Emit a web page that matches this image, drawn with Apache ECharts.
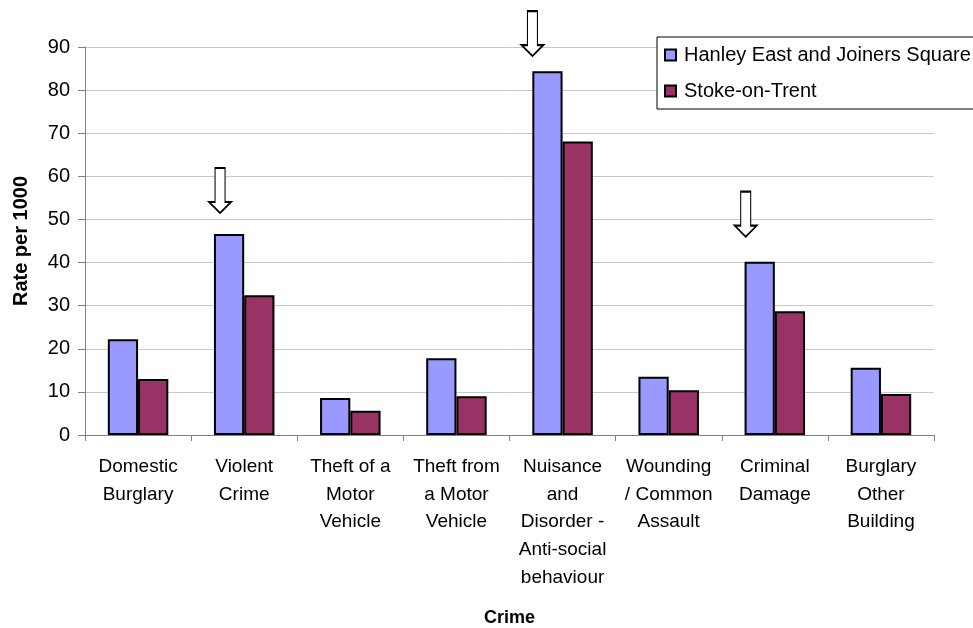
<!DOCTYPE html>
<html>
<head>
<meta charset="utf-8">
<script src="https://cdn.jsdelivr.net/npm/echarts@6/dist/echarts.min.js"></script>
<style>html,body{margin:0;padding:0;background:#fff}#c{width:973px;height:628px}</style>
</head>
<body>
<div id="c"></div>
<script>
var categories = ["Domestic\nBurglary", "Violent\nCrime", "Theft of a\nMotor\nVehicle", "Theft from\na Motor\nVehicle", "Nuisance\nand\nDisorder -\nAnti-social\nbehaviour", "Wounding\n/ Common\nAssault", "Criminal\nDamage", "Burglary\nOther\nBuilding"];
var seriesNames = ["Hanley East and Joiners Square", "Stoke-on-Trent"];
var hanley = [22.2, 46.6, 8.6, 17.8, 84.4, 13.5, 40.2, 15.6];
var stoke = [13.0, 32.4, 5.6, 9.0, 68.1, 10.4, 28.7, 9.5];
var yTicks = [0, 10, 20, 30, 40, 50, 60, 70, 80, 90];
var arrowCategoryIndex = [1, 4, 6];
var arrowTipValues = [51.5, 87.9, 46.0];

var FONT = '"Liberation Sans", Arial, sans-serif';
var arrowPath = 'path://M6,0 L16,0 L16,34 L22,34 L11,45 L0,34 L6,34 Z';
var arrowOffsets = [-9, -15, -14];

var chart = echarts.init(document.getElementById('c'), null, {renderer: 'canvas'});
var option = {
  backgroundColor: '#ffffff',
  animation: false,
  textStyle: {fontFamily: FONT, color: '#000'},
  grid: {left: 85, width: 849, top: 47, height: 388, containLabel: false, outerBoundsMode: 'none'},
  legend: {
    orient: 'vertical',
    left: 657,
    top: 37,
    padding: [8, 60, 8, 7],
    itemWidth: 11,
    itemHeight: 11,
    itemGap: 16,
    icon: 'rect',
    borderColor: '#000',
    borderWidth: 1,
    backgroundColor: '#fff',
    textStyle: {fontFamily: FONT, fontSize: 20, color: '#000', lineHeight: 20, padding: [0, 0, 0, 3]},
    data: seriesNames
  },
  xAxis: {
    type: 'category',
    data: categories,
    name: 'Crime',
    nameLocation: 'middle',
    nameGap: 174,
    nameTextStyle: {fontFamily: FONT, fontSize: 18, fontWeight: 'bold', color: '#000', verticalAlign: 'top'},
    axisLine: {lineStyle: {color: '#808080', width: 1}},
    axisTick: {show: true, alignWithLabel: false, length: 6, lineStyle: {color: '#808080'}},
    axisLabel: {fontFamily: FONT, fontSize: 19, color: '#000', lineHeight: 27.7, margin: 18, interval: 0, align: 'center'},
    splitLine: {show: false}
  },
  yAxis: {
    type: 'value',
    min: yTicks[0],
    max: yTicks[yTicks.length - 1],
    interval: 10,
    name: 'Rate per 1000',
    nameLocation: 'middle',
    nameGap: 54,
    nameTextStyle: {fontFamily: FONT, fontSize: 20, fontWeight: 'bold', color: '#000'},
    axisLine: {show: true, lineStyle: {color: '#808080', width: 1}},
    axisTick: {show: true, length: 7, lineStyle: {color: '#808080'}},
    axisLabel: {fontFamily: FONT, fontSize: 20, color: '#000', margin: 15},
    splitLine: {show: true, lineStyle: {color: '#c8c8c8', width: 1}}
  },
  series: [
    {
      name: seriesNames[0],
      type: 'bar',
      data: hanley,
      barGap: '0%',
      barCategoryGap: '43%',
      itemStyle: {color: '#9999ff', borderColor: '#000', borderWidth: 2},
      markPoint: {
        symbol: arrowPath,
        symbolSize: [22, 45],
        itemStyle: {color: '#fff', borderColor: '#000', borderWidth: 1.5},
        label: {show: false},
        data: arrowCategoryIndex.map(function (ci, i) {
          return {coord: [ci, arrowTipValues[i]], symbolOffset: [arrowOffsets[i], -22.5]};
        })
      }
    },
    {
      name: seriesNames[1],
      type: 'bar',
      data: stoke,
      barGap: '0%',
      barCategoryGap: '43%',
      itemStyle: {color: '#993366', borderColor: '#000', borderWidth: 2}
    }
  ]
};
chart.setOption(option);
</script>
</body>
</html>
